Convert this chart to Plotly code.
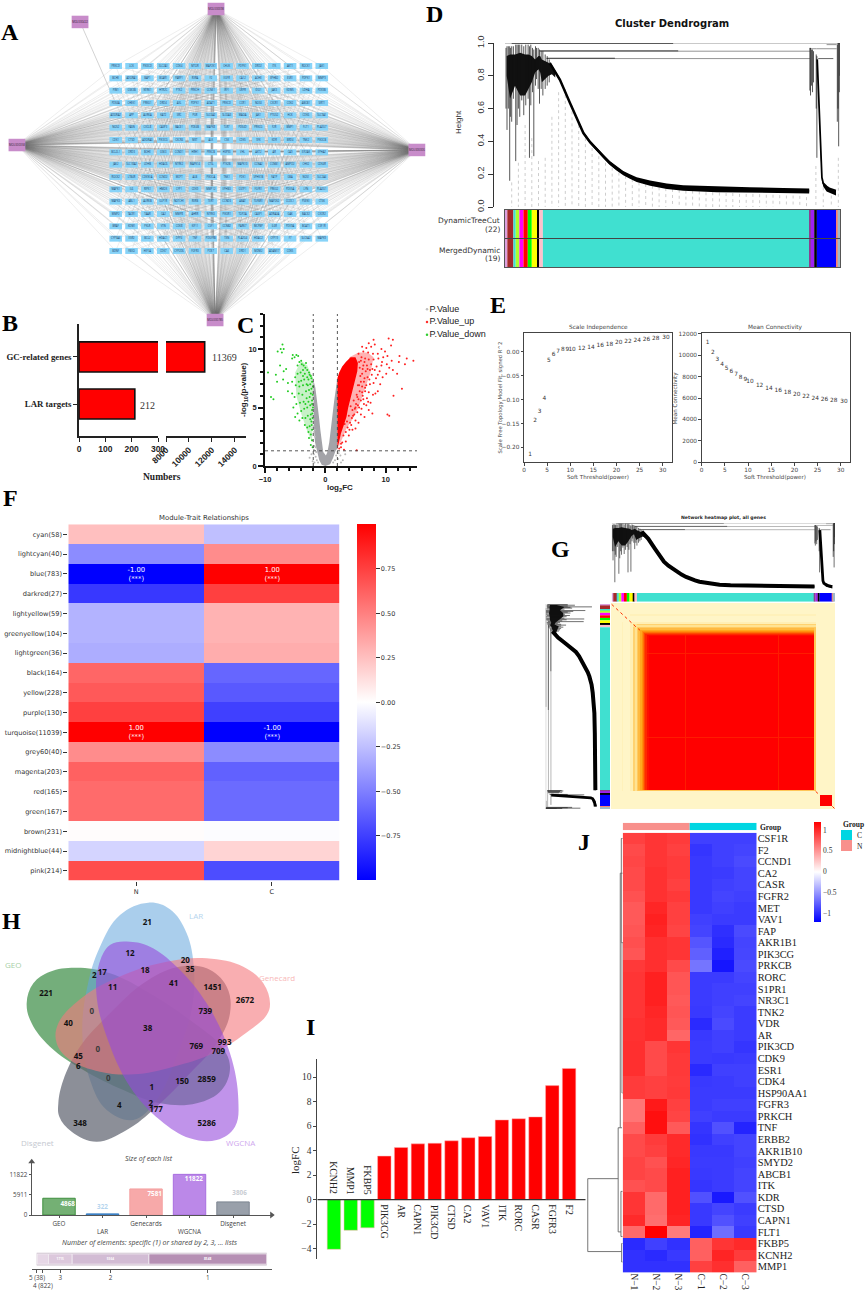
import plotly.graph_objects as go

W, H = 865, 1295
SERIF = "Liberation Serif"
SANS = "Liberation Sans"
DEJA = "DejaVu Sans"

# A: network
gene_rows = [
    ["PRKCD", "LCK", "PIK3CD", "SLC2A1", "CDK4", "MTOR", "MAP2K1", "CHUK", "PDPK1", "DRD2", "ITK", "AKT1", "ROCK1", "JAK1"],
    ["BCHE", "ADORA1", "BAP1", "BCAR1", "PARP1", "RXRA", "F2", "EGFR", "CA12", "ACHE", "EPHB2", "ESR1", "PDPK1", "MMP9"],
    ["PIM1", "GSK3B", "NTRK1", "HTR2C", "PTK2", "PRKCH", "CCNE1", "IRF1", "GRPR", "IDO1", "JAK3", "KDM5", "LDHA", "PDE3B"],
    ["PDE4A", "CHEK1", "PRKG1", "DRD4", "AXL", "PDPK1", "ADAT1", "PRKCD", "CCR1", "NOS3", "CXCR1", "CDK2", "ABCB1", "SIRT1"],
    ["ADORA2", "APP", "AURKA", "KAT2", "SRC", "PGR", "SLC6A2", "SLC6A3", "MAOA", "JAK1", "PTGS2", "HCK", "CDK6", "SLC9A1"],
    ["NOS2", "FASN", "CXCL8", "CASP3", "BACE1", "PDE4B", "MAPK8", "TLR7", "PDE4D", "PRKCG", "F2R", "BMP1", "FLT1", "PLA2G7"],
    ["CDK1", "CTSD", "ADORA3", "PIK3CG", "CXCR4", "MET", "ALK", "CSK", "CDK5", "SYK", "KDR", "BRD4", "TNK2", "PIK3CB"],
    ["BCL2L1", "DRD3", "BCHE", "GSK3", "CCND1", "HRH1", "PRKCB", "HSP90", "VHL", "AKT2", "AR", "CA9", "EIF2AK", "EPHA2"],
    ["JAK2", "SLC18A2", "LDHB", "HDAC6", "NTRK2", "MAPK14", "CTSL", "PTK2B", "MAPK10", "CCNA2", "CCNB1", "AMPD2", "CHK2", "CDK4R"],
    ["ROCK2", "LTB4R", "CDKN1A", "CCND2", "MCPT", "ALB", "PIK3CA", "TNK1", "PDK1", "SPHK1B", "FATP", "GBA", "NOS1", "SLC2A4"],
    ["MAPK1", "IL6", "RIPK1", "HMOX", "CFP1", "CDK9", "MMP12", "EPHB3", "GSTP1", "FGFR1", "PRKG2", "PDE5A", "LYN", "PLA2G1"],
    ["MAPK3", "ABL1", "AURKB", "GLP1R", "NOTCH1", "RXRB", "TERT", "CCND3", "ABAT", "TGFBR1", "MAP2K2", "CCDC1", "PSEN1", "CTSK"],
    ["MMP2", "TACR1", "TAAR", "CA2", "MMP8", "AHRR", "NTRK3", "PIK3R1", "TOP2A", "CASP1", "ADRA2A", "GAK", "BACE2", "CXCR2"],
    ["BRAF", "KDM1", "PKLR", "VTN", "CDK8", "KIF11", "CSF1", "CCNB2", "PARK7", "MCPBP", "IL6R", "PDE9A", "BCAT1", "CSF1R"],
    ["CYP3A4", "ESR2", "BCL2", "HDAC1", "DPP4", "TNF", "PDGFRB", "TXN", "PLA2G4", "HDAC2", "CYP19", "F7", "SLC5A2", "MAPK9"],
    ["BDNF", "FBXO", "HIF1A", "CDK7", "CYP2D6", "FGFR3", "PDE7", "CA4", "DRD1", "MDM2", "ADAM17", "CDK5"],
]
hub_names = ["MOL000422", "MOL000098", "MOL000358", "MOL000006", "MOL000785"]
hub_col = [-2.25, 6.33, -6.23, 19.0, 6.27]
hub_row = [-3.57, -4.62, 6.41, 6.81, 20.6]

# B: broken bars
target_names = ["LAR targets", "GC-related genes"]
target_counts = [212, 11369]

# C: volcano
volc_core_x = [-2, -2, -1.95, -1.9, -1.7, -1.35, -1, -0.6, 0, 0.8, 1.3, 1.7, 2, 2, 1.75, 1.45, 1.15, 0.9, 0.65, 0.35, 0.1, -0.35, -0.6, -0.8, -1.05, -1.3, -1.65]
volc_core_y = [7.4, 6, 4.5, 3.2, 2, 1.1, 0.5, 0.1, 0, 0.15, 0.7, 1.3, 1.5, 7.5, 6.7, 5.5, 4.2, 3, 2, 1.2, 0.9, 1.2, 2, 3, 4.2, 5.5, 6.7]
volc_red_x = [2, 2.3, 2.6, 3, 3.5, 3.8, 4.2, 4.6, 5, 5.3, 5.4, 5, 4.2, 3.4, 2.8, 2.3, 2]
volc_red_y = [1.4, 2.2, 2.8, 3.4, 4.2, 5, 5.8, 6.6, 7.4, 8.1, 8.8, 9.3, 9.3, 8.9, 8.5, 8, 7.5]
volc_haze_up_x = [2.2, 3.5, 4.5, 5.5, 6.5, 7.5, 8, 7, 5.5, 4]
volc_haze_up_y = [1.6, 3.2, 4, 5, 6.5, 8, 9.3, 9.7, 9.7, 9.3]
volc_haze_down_x = [-2, -3, -4, -5, -4.8, -4, -3, -2.2]
volc_haze_down_y = [7.5, 8.6, 9, 8, 6, 4.5, 3, 2]
up_points = [(2.3, 1.5), (2.6, 1.6), (3.1, 1.4), (5.2, 1.35), (2.8, 2.0), (3.0, 2.6), (3.4, 2.9), (3.7, 3.3), (3.2, 3.6), (4.1, 3.7),
             (4.4, 4.1), (3.9, 4.3), (4.8, 4.4), (5.0, 3.9), (4.5, 4.8), (5.3, 4.6), (4.2, 5.1), (5.6, 5.0), (6.0, 4.9), (5.1, 5.3),
             (4.7, 5.6), (6.4, 5.3), (5.5, 5.7), (6.9, 5.8), (7.5, 5.4), (7.9, 6.1), (8.3, 6.2), (6.2, 6.0), (5.2, 6.1), (5.7, 6.4),
             (6.6, 6.4), (7.2, 6.3), (8.7, 6.4), (9.1, 7.0), (8.0, 7.1), (7.4, 7.0), (6.8, 6.9), (6.1, 6.8), (5.4, 6.9), (5.9, 7.2),
             (6.5, 7.5), (7.0, 7.6), (7.7, 7.8), (8.4, 7.5), (9.5, 7.6), (10.1, 7.9), (9.0, 8.1), (8.2, 8.2), (7.4, 8.2), (6.7, 8.1),
             (6.1, 7.9), (5.7, 8.4), (6.3, 8.6), (6.9, 8.6), (7.6, 8.7), (8.5, 8.5), (9.3, 8.6), (10.2, 8.7), (10.6, 8.4), (11.2, 8.2),
             (11.0, 9.0), (12.2, 8.9), (13.2, 8.7), (13.5, 9.2), (14.6, 9.0), (12.3, 9.4), (10.3, 9.4), (9.6, 9.3), (8.8, 9.2), (8.0, 9.1),
             (7.2, 9.1), (6.6, 9.2), (6.0, 9.3), (5.5, 9.6), (6.3, 9.8), (7.1, 9.7), (7.9, 9.6), (8.7, 9.6), (9.3, 10.0), (8.2, 10.4),
             (7.6, 10.2), (6.8, 10.1), (6.1, 10.2), (8.0, 10.8), (7.2, 10.5), (10.5, 10.9), (11.2, 10.8), (10.9, 10.3), (9.9, 9.8), (11.3, 6.0),
             (12.7, 6.6), (11.9, 7.9), (10.3, 4.4), (10.6, 4.3), (7.2, 4.8), (7.8, 4.5), (6.5, 4.2), (5.9, 4.4), (5.5, 3.7), (5.0, 3.2),
             (4.5, 3.1), (3.9, 2.6), (3.4, 2.1), (2.6, 1.9), (5.9, 5.6), (6.3, 5.7), (5.4, 5.2), (4.9, 4.9), (4.6, 4.3), (4.3, 3.5),
             (6.8, 5.2), (7.1, 5.5), (5.6, 6.9), (5.8, 7.7), (6.4, 7.2), (7.3, 7.4), (6.2, 8.3), (5.6, 8.9), (5.9, 9.0), (6.5, 8.9),
             (7.0, 8.3), (7.8, 8.3), (8.7, 7.8), (9.4, 8.9), (6.1, 6.3), (6.6, 6.7), (5.3, 5.9), (5.0, 5.0), (3.6, 3.8), (4.0, 3.1)]
down_points = [(-7.1, 10.4), (-7.4, 10.0), (-7.9, 9.8), (-7.2, 9.7), (-6.9, 10.0), (-5.4, 9.5), (-5.1, 9.3), (-4.8, 9.5), (-4.5, 9.4), (-5.5, 9.2),
               (-4.3, 8.9), (-4.0, 9.0), (-3.9, 8.7), (-4.6, 8.6), (-3.6, 8.6), (-3.3, 8.4), (-3.7, 8.2), (-3.0, 8.2), (-2.7, 8.0), (-3.4, 7.9),
               (-4.1, 8.0), (-4.6, 7.9), (-5.0, 7.6), (-3.0, 7.6), (-2.4, 7.7), (-2.8, 7.4), (-3.5, 7.4), (-4.0, 7.3), (-2.2, 7.2), (-2.5, 7.0),
               (-3.1, 7.0), (-3.7, 6.9), (-4.3, 6.8), (-4.9, 6.9), (-5.5, 7.2), (-6.2, 7.1), (-7.0, 7.4), (-8.0, 7.2), (-8.2, 7.8), (-9.5, 8.0),
               (-6.5, 8.3), (-7.5, 8.6), (-6.9, 8.1), (-9.0, 5.9), (-8.6, 5.7), (-6.2, 6.4), (-5.5, 6.2), (-5.1, 5.9), (-4.4, 6.2), (-3.8, 6.1),
               (-3.2, 6.4), (-2.7, 6.5), (-2.3, 6.6), (-2.1, 6.1), (-2.6, 5.9), (-3.1, 5.8), (-3.6, 5.5), (-4.2, 5.4), (-4.8, 5.3), (-5.3, 5.0),
               (-2.2, 5.6), (-2.5, 5.2), (-3.0, 5.0), (-3.5, 4.9), (-4.0, 4.7), (-4.6, 4.5), (-5.0, 4.2), (-2.2, 4.8), (-2.4, 4.4), (-2.9, 4.3),
               (-3.3, 4.1), (-3.8, 4.1), (-4.3, 3.9), (-2.3, 3.8), (-2.6, 3.4), (-3.0, 3.3), (-2.2, 3.1), (-3.4, 3.5), (-2.4, 2.7), (-2.7, 2.4),
               (-2.2, 2.2), (-2.4, 1.8), (-2.1, 1.6), (-2.2, 5.3), (-2.1, 4.1), (-2.05, 6.8), (-2.05, 5.0), (-2.3, 7.5), (-2.6, 7.8), (-3.2, 8.8),
               (-2.9, 6.9), (-2.4, 6.2), (-2.8, 5.5), (-3.3, 5.3), (-2.15, 4.5), (-2.5, 4.0), (-2.25, 3.5), (-2.8, 2.9), (-3.7, 7.7), (-4.4, 7.2)]
other_points = [(-1.9, 1.4), (-1.8, 1.7), (-1.7, 2.5), (-1.6, 1.6), (-1.5, 1.2), (-1.85, 2.9), (-1.95, 3.4), (-1.75, 3.1), (-1.9, 1.0), (-1.6, 0.8),
                (-1.4, 0.5), (-2.3, 1.0), (-2.6, 0.7), (-2.1, 0.4), (-1.8, 0.3), (-1.2, 0.3), (2.2, 1.1), (2.5, 0.9), (2.9, 0.5), (2.6, 0.3),
                (2.1, 0.6), (1.8, 0.9), (1.6, 0.5), (1.3, 0.3), (-1.95, 4.0), (-1.98, 5.2), (-1.97, 6.1), (3.3, 1.0)]
legend_names = ["P.Value", "P.Value_up", "P.Value_down"]
legend_colors = ["#c0c0c0", "#ff3030", "#30cc30"]

# D / G: dendrogram, x is gene order in percent of the width, h is height
dend_curve_x = [13.4, 16.4, 19.4, 21.4, 23.4, 25.4, 27.4, 29.4, 31.3, 33.3, 35.3, 37.3, 39.3, 43.3, 48.3, 53.2, 63.2, 73.1, 83.1, 90.8]
dend_curve_hi = [0.885, 0.785, 0.643, 0.553, 0.46, 0.405, 0.36, 0.318, 0.28, 0.249, 0.22, 0.199, 0.181, 0.162, 0.143, 0.133, 0.125, 0.12, 0.116, 0.113]
dend_curve_lo = [0.87, 0.767, 0.625, 0.535, 0.442, 0.385, 0.34, 0.296, 0.256, 0.222, 0.194, 0.172, 0.153, 0.13, 0.109, 0.099, 0.09, 0.087, 0.085, 0.083]
dend_side_x = [93.2, 93.6, 94.0, 94.3, 94.6, 95, 96, 97, 98, 98.8, 98.8, 98, 97, 96, 95, 94.6, 94.3, 94.0, 93.6, 93.2]
dend_side_h = [0.9, 0.7, 0.45, 0.3, 0.18, 0.145, 0.125, 0.112, 0.105, 0.1, 0.07, 0.078, 0.085, 0.095, 0.125, 0.16, 0.28, 0.43, 0.68, 0.9]
dend_dense_x = [0.5, 1.5, 3, 4.5, 6, 7, 8, 9, 10, 10.5, 11, 12, 13, 14, 15]
dend_dense_hi = [0.92, 0.93, 0.93, 0.94, 0.93, 0.93, 0.92, 0.9, 0.92, 0.92, 0.9, 0.89, 0.88, 0.86, 0.83]
dend_dense_lo = [0.8, 0.66, 0.74, 0.68, 0.68, 0.72, 0.76, 0.82, 0.84, 0.82, 0.76, 0.78, 0.8, 0.81, 0.79]
spike_x = [0.3, 0.6, 1.0, 1.4, 1.6, 2.0, 2.5, 3.2, 3.6, 4.0, 4.4, 5.0, 5.6, 6.2, 6.9, 7.3, 7.7, 8.2, 8.6, 9.1, 9.4, 9.9, 10.3, 10.8, 11.3, 12.0, 12.6, 13.2,
           91.0, 91.2, 91.5, 91.8, 92.1, 92.9, 93.1, 99.2, 99.4, 99.6, 99.8, 100]
spike_hi = [0.97, 0.98, 0.98, 0.98, 0.97, 0.98, 0.98, 0.99, 0.99, 0.99, 0.99, 0.99, 0.98, 0.99, 0.99, 0.98, 0.99, 0.97, 0.96, 0.98, 0.97, 0.97, 0.96, 0.95, 0.95, 0.93, 0.92, 0.9,
            0.97, 0.97, 0.96, 0.96, 0.95, 0.93, 0.92, 0.99, 1.0, 1.0, 1.0, 1.0]
spike_lo = [0.6, 0.47, 0.6, 0.16, 0.55, 0.52, 0.66, 0.28, 0.5, 0.6, 0.55, 0.65, 0.56, 0.62, 0.66, 0.3, 0.62, 0.7, 0.31, 0.74, 0.78, 0.72, 0.63, 0.72, 0.68, 0.72, 0.74, 0.76,
            0.71, 0.68, 0.74, 0.7, 0.76, 0.6, 0.3, 0.52, 0.6, 0.37, 0.7, 0.8]
hline_x0 = [0, 2, 10.4, 10.4, 12.4, 12.4, 93, 96, 93.5, 91, 96]
hline_x1 = [100, 50.2, 91, 51.7, 91, 32.8, 99, 99, 98, 93, 96]
hline_h = [1.0, 0.998, 0.95, 0.952, 0.905, 0.907, 0.965, 0.99, 0.905, 0.965, 0.99]
hline_color = ["#888888", "#333333", "#888888", "#333333", "#888888", "#333333", "#888888", "#888888", "#555555", "#888888", "#888888"]
guide_x = [2, 4, 6, 8, 10, 12, 14, 16, 18, 20, 22, 24, 26, 28, 30, 32, 34, 36, 38, 40, 42, 44, 46, 48, 50, 52, 54, 56, 58, 60, 62, 64, 66, 68, 70, 72, 74, 76, 78, 80, 82, 84, 86, 88, 90, 92.8, 95, 97.4, 99.5]
guide_h = [0.15, 0.27, 0.5, 0.42, 0.28, 0.3, 0.55, 0.7, 0.72, 0.62, 0.5, 0.42, 0.36, 0.31, 0.27, 0.24, 0.21, 0.19, 0.17, 0.15, 0.14, 0.13, 0.12, 0.115, 0.11, 0.105, 0.1, 0.1, 0.095, 0.09, 0.09, 0.088, 0.085, 0.085, 0.08, 0.08, 0.08, 0.078, 0.075, 0.075, 0.072, 0.07, 0.07, 0.068, 0.06, 0.25, 0.12, 0.07, 0.3]
module_widths = [0.7, 1.8, 0.7, 1.1, 1.2, 1.3, 1.2, 1.7, 0.5, 1.1, 79.6, 0.4, 1.0, 0.8, 5.8, 0.4, 0.8]
module_colors = ["#dda0dd", "#a52a2a", "#40e0d0", "#adff2f", "#ff00ff", "#ff0000", "#00ff00", "#ffff00", "#000000", "#ffc0cb", "#40e0d0", "#8b4090", "#a020f0", "#000000", "#0000ff", "#fa8072", "#9fb8c8"]

# E: soft threshold
power_labels = ["1", "2", "3", "4", "5", "6", "7", "8", "9", "10", "12", "14", "16", "18", "20", "22", "24", "26", "28", "30"]
power_x = [1.3, 2.4, 3.4, 4.4, 5.4, 6.4, 7.4, 8.4, 9.4, 10.4, 12.5, 14.5, 16.5, 18.5, 20.5, 22.5, 24.5, 26.5, 28.5, 30.7]
scale_fit = [-0.2145, -0.1446, -0.1246, -0.097, -0.0187, -0.0055, 0.0, 0.0035, 0.004, 0.004, 0.0055, 0.0083, 0.0125, 0.0145, 0.018, 0.02, 0.022, 0.025, 0.0277, 0.03]
mean_conn = [11160, 10228, 9575, 9109, 8736, 8456, 8176, 7927, 7741, 7523, 7181, 6901, 6684, 6497, 6311, 6124, 5969, 5876, 5751, 5627]

# F: module-trait heatmap
module_names = ["cyan(58)", "lightcyan(40)", "blue(783)", "darkred(27)", "lightyellow(59)", "greenyellow(104)", "lightgreen(36)", "black(164)", "yellow(228)",
                "purple(130)", "turquoise(11039)", "grey60(40)", "magenta(203)", "red(165)", "green(167)", "brown(231)", "midnightblue(44)", "pink(214)"]
trait_n = [0.25, -0.45, -1.0, -0.78, -0.3, -0.3, -0.32, 0.6, 0.65, 0.75, 1.0, 0.45, 0.62, 0.58, 0.58, 0.01, -0.17, 0.7]
trait_c = [-0.25, 0.45, 1.0, 0.75, 0.3, 0.3, 0.32, -0.6, -0.65, -0.75, -1.0, -0.45, -0.62, -0.58, -0.58, -0.01, 0.17, -0.7]
trait_text_n = ["", "", "-1.00<br>(***)", "", "", "", "", "", "", "", "1.00<br>(***)", "", "", "", "", "", "", ""]
trait_text_c = ["", "", "1.00<br>(***)", "", "", "", "", "", "", "", "-1.00<br>(***)", "", "", "", "", "", "", ""]

# G: TOM heat map, bands
tom_x_edges = [243, 275, 280, 300, 310, 314, 320, 325, 330, 335, 340, 343, 346, 350, 356, 465, 468, 743, 746, 853, 857, 870, 907, 915]
tom_y_edges = [338, 370, 378, 395, 400, 405, 410, 414, 418, 421, 424, 427, 430, 433, 438, 487, 490, 742, 745, 900, 905, 917, 950, 958]
tom_band = [0.02, 0.08, 0.02, 0.1, 0.35, 0.25, 0.38, 0.45, 0.52, 0.6, 0.7, 0.82, 0.9, 0.97, 1.0, 0.93, 1.0, 0.93, 1.0, 0.4, 0.02, 0.02, 0.02]
tom_diag_x = [245, 262, 280, 296, 305, 318, 330, None, 857, 870, None, 907, 915]
tom_diag_y = [342, 358, 375, 392, 398, 410, 420, None, 905, 917, None, 950, 958]

# H: venn
petal_geo = [(80, 340), (100, 280), (150, 245), (230, 233), (330, 250), (450, 310), (570, 390), (665, 470), (690, 530), (665, 600), (590, 640), (480, 640), (370, 600), (250, 540), (150, 470), (95, 400)]
petal_lar = [(445, 38), (510, 58), (560, 130), (582, 240), (575, 360), (530, 500), (470, 630), (400, 690), (320, 660), (270, 570), (247, 430), (262, 290), (300, 170), (360, 75)]
petal_gene = [(810, 340), (790, 280), (730, 230), (620, 205), (500, 215), (370, 255), (250, 320), (175, 400), (170, 460), (210, 510), (300, 545), (400, 553), (520, 530), (640, 490), (750, 420), (800, 375)]
petal_wgcna = [(390, 155), (330, 165), (295, 230), (290, 320), (320, 440), (390, 590), (480, 690), (570, 745), (650, 750), (705, 710), (715, 630), (690, 490), (620, 340), (530, 230), (450, 170)]
petal_dis = [(175, 640), (190, 570), (240, 470), (330, 370), (430, 280), (530, 232), (620, 235), (680, 290), (690, 370), (650, 460), (570, 550), (470, 650), (380, 720), (290, 755), (215, 725), (178, 680)]
venn_counts = [("21", 442, 100), ("12", 390, 193), ("20", 556, 213), ("35", 570, 239), ("2", 283, 257), ("17", 307, 248), ("18", 435, 242), ("11", 338, 295), ("41", 521, 283),
               ("1451", 638, 295), ("2672", 735, 334), ("221", 138, 313), ("0", 275, 366), ("739", 616, 365), ("40", 205, 401), ("38", 443, 418), ("993", 674, 458), ("769", 589, 472),
               ("709", 655, 486), ("0", 293, 481), ("45", 235, 500), ("6", 235, 530), ("0", 325, 568), ("150", 546, 577), ("2859", 620, 569), ("1", 455, 595), ("4", 358, 648),
               ("2", 452, 642), ("177", 468, 660), ("348", 240, 701), ("5286", 620, 701)]
list_names = ["GEO", "<br>LAR", "Genecards", "<br>WGCNA", "Disgenet"]
list_sizes = [4868, 322, 7581, 11822, 3806]
list_fill = ["#74b074", "#5b9bd5", "#f7a9a9", "#bb88e8", "#99a0aa"]
list_edge = ["#3f8f3f", "#2f78c0", "#f4a0a0", "#a86fe0", "#7c8490"]
shared_counts = [38, 822, 1715, 5564, 8548]
shared_names = ["5 (38)", "<br>4 (822)", "3", "2", "1"]
shared_fill = ["#d9c8d9", "#e6d7e6", "#dcc8dc", "#d2bcd4", "#b690b4"]
shared_text = [" ", " ", "1715", "5564", "8548"]

# I: logFC bars
fc_genes = ["KCNH2", "MMP1", "FKBP5", "PIK3CG", "AR", "CAPN1", "PIK3CD", "CTSD", "CA2", "VAV1", "ITK", "RORC", "CASR", "FGFR3", "F2"]
fc_values = [-4.05, -2.5, -2.3, 3.55, 4.25, 4.55, 4.6, 4.8, 5.05, 5.15, 6.5, 6.6, 6.75, 9.3, 10.7]

# J: expression heatmap
expr_genes = ["CSF1R", "F2", "CCND1", "CA2", "CASR", "FGFR2", "MET", "VAV1", "FAP", "AKR1B1", "PIK3CG", "PRKCB", "RORC", "S1PR1", "NR3C1", "TNK2", "VDR", "AR", "PIK3CD",
              "CDK9", "ESR1", "CDK4", "HSP90AA1", "FGFR3", "PRKCH", "TNF", "ERBB2", "AKR1B10", "SMYD2", "ABCB1", "ITK", "KDR", "CTSD", "CAPN1", "FLT1", "FKBP5", "KCNH2", "MMP1"]
expr_samples = ["N\u22121", "N\u22122", "N\u22123", "C\u22121", "C\u22122", "C\u22123"]
expr_values = [
    [0.9, 0.95, 0.92, -0.9, -0.9, -0.9], [0.85, 0.95, 0.9, -0.95, -0.9, -0.88], [0.87, 0.95, 0.92, -0.93, -0.9, -0.85],
    [0.85, 0.97, 0.92, -0.93, -0.92, -0.88], [0.85, 0.97, 0.9, -0.93, -0.9, -0.88], [0.82, 0.97, 0.93, -0.93, -0.88, -0.9],
    [0.78, 1.02, 0.9, -0.93, -0.9, -0.92], [0.78, 1.05, 0.9, -0.9, -0.92, -0.92], [0.8, 1.03, 0.88, -0.88, -0.98, -0.85],
    [0.83, 0.98, 0.95, -0.8, -1.0, -0.88], [0.8, 0.98, 0.95, -0.75, -1.05, -0.87], [0.93, 0.98, 0.85, -0.65, -1.1, -0.85],
    [0.95, 1.05, 0.8, -0.92, -0.92, -0.88], [0.95, 1.05, 0.8, -0.92, -0.9, -0.9], [0.95, 1.05, 0.78, -0.92, -0.9, -0.88],
    [0.95, 1.02, 0.8, -0.93, -0.88, -0.92], [0.97, 1.0, 0.78, -1.0, -0.85, -0.92], [0.97, 1.0, 0.72, -0.93, -0.9, -0.92],
    [0.98, 0.85, 0.95, -0.92, -0.9, -0.95], [0.98, 0.85, 0.93, -0.92, -0.93, -0.92], [0.98, 0.85, 0.93, -1.0, -0.9, -0.9],
    [0.92, 0.9, 0.92, -0.93, -0.92, -0.9], [0.92, 0.9, 0.93, -0.92, -0.92, -0.92], [0.65, 1.08, 0.9, -0.92, -0.9, -0.9],
    [0.65, 1.13, 0.88, -0.9, -0.92, -0.92], [0.75, 1.13, 0.78, -0.95, -0.82, -1.03], [0.85, 0.92, 1.0, -0.97, -0.9, -0.88],
    [0.85, 0.9, 1.0, -0.93, -0.93, -0.88], [0.88, 0.82, 1.02, -0.92, -0.92, -0.9], [0.88, 0.85, 1.05, -0.93, -0.92, -0.88],
    [0.82, 0.85, 1.05, -0.95, -0.92, -0.88], [0.95, 0.7, 1.05, -0.82, -1.08, -0.82], [0.95, 0.7, 1.05, -0.93, -0.88, -0.92],
    [1.0, 0.68, 1.03, -0.93, -0.82, -0.9], [0.7, 1.2, 0.62, -1.03, -0.68, -0.93], [-1.0, -0.9, -0.97, 0.75, 0.95, 1.0],
    [-0.97, -1.0, -0.93, 0.75, 1.03, 0.92], [-0.97, -0.97, -0.97, 0.9, 0.98, 0.75],
]
group_widths = [3, 3]
group_colors = ["#f8908c", "#00d6e2"]
tree_x = [1.0, 1.0, None, 1.0, 0.13, None, 1.0, 0.03, None, 0.13, 0.13, None, 0.13, 0.07, None, 0.13, 0.05, None, 0.03, 0.03, None, 0.03, 0, None, 0.03, 0, None,
          0.07, 0.07, None, 0.07, 0, None, 0.07, 0.02, None, 0.05, 0.05, None, 0.05, 0, None, 0.05, 0, None, 0.02, 0.02, None, 0.02, 0, None, 0.02, 0, None, 0.04, 0.04, None, 0.04, 0, None, 0.04, 0]
tree_y = [29.4, 35.7, None, 29.4, 29.4, None, 35.7, 35.7, None, 25, 34, None, 25, 25, None, 34, 34, None, 35, 36.6, None, 35, 35, None, 36.6, 36.6,
          None, 3, 25, None, 3, 3, None, 25, 25, None, 30.5, 34.4, None, 30.5, 30.5, None, 34.4, 34.4, None, 9, 22, None, 9, 9, None, 22, 22, None, 0, 9, None, 0, 0, None, 9, 9]

fig = go.Figure()
notes = []
axes = {}
n_axes = 1


def new_axes(left, top, right, bottom, x=None, y=None):
    # one panel, box given in page pixels
    global n_axes
    n_axes += 1
    base = dict(showgrid=False, zeroline=False, showticklabels=False, ticks="", showline=False)
    axes[f"xaxis{n_axes}"] = {**base, "domain": [left / W, right / W], "anchor": f"y{n_axes}", **(x or {})}
    axes[f"yaxis{n_axes}"] = {**base, "domain": [1 - bottom / H, 1 - top / H], "anchor": f"x{n_axes}", **(y or {})}
    return dict(xaxis=f"x{n_axes}", yaxis=f"y{n_axes}")


def note(x, y, text, size=8, color="#222222", family=SANS, weight=400, angle=0, xanchor="center"):
    notes.append(dict(x=x / W, y=1 - y / H, xref="paper", yref="paper", text=text, showarrow=False, textangle=angle,
                      xanchor=xanchor, yanchor="middle", font=dict(size=size, color=color, family=family, weight=weight)))


def line_trace(ax, xs, ys, color, width, dash="solid"):
    fig.add_trace(go.Scatter(x=xs, y=ys, mode="lines", line=dict(color=color, width=width, dash=dash), hoverinfo="skip", **ax))


def fill_trace(ax, xs, ys, color):
    fig.add_trace(go.Scatter(x=xs, y=ys, mode="lines", fill="toself", fillcolor=color, line=dict(width=0), hoverinfo="skip", **ax))


def add_dendro(ax, swap=False, width=0.7, guides=False, stroke=0):
    def put_line(xs, ys, color, w, dash="solid"):
        line_trace(ax, ys if swap else xs, xs if swap else ys, color, w, dash)

    def put_fill(xs, ys, color):
        fill_trace(ax, ys if swap else xs, xs if swap else ys, color)

    if guides:
        xs, ys = [], []
        for gx, gh in zip(guide_x, guide_h):
            xs += [gx, gx, None]
            ys += [gh, 0.0, None]
        put_line(xs, ys, "#b8b8b8", 0.7, "dot")
    for x0, x1, h, c in zip(hline_x0, hline_x1, hline_h, hline_color):
        put_line([x0, x1], [h, h], c, 0.9 if guides else 0.6)
    put_fill(dend_dense_x + dend_dense_x[::-1], dend_dense_hi + dend_dense_lo[::-1], "#111111")
    xs, ys = [], []
    for sx, hi, lo in zip(spike_x, spike_hi, spike_lo):
        xs += [sx, sx, None]
        ys += [hi, lo, None]
    put_line(xs, ys, "#111111", width)
    put_fill(dend_curve_x + dend_curve_x[::-1], dend_curve_hi + dend_curve_lo[::-1], "#000000")
    put_fill(dend_side_x, dend_side_h, "#000000")
    # the fill alone comes out too thin, the small copies most of all
    put_line(dend_curve_x, [(a + b) / 2 for a, b in zip(dend_curve_hi, dend_curve_lo)], "#000000", stroke)
    put_line(dend_side_x[:10], dend_side_h[:10], "#000000", stroke * 0.7)


def module_bar(ax, row=0, vertical=False):
    left = [sum(module_widths[:i]) for i in range(len(module_widths))]
    if vertical:
        fig.add_trace(go.Bar(y=module_widths, base=left, x=[row] * len(left), width=1, marker=dict(color=module_colors, line_width=0), hoverinfo="skip", **ax))
    else:
        fig.add_trace(go.Bar(x=module_widths, base=left, y=[row] * len(left), width=1, orientation="h", marker=dict(color=module_colors, line_width=0), hoverinfo="skip", **ax))


# ---- A ----
ax = new_axes(0, 0, 450, 330, x=dict(range=[-7.3, 21.09]), y=dict(range=[21.41, -5.35]))
ex, ey = [], []
for hx, hy in zip(hub_col[1:], hub_row[1:]):
    for r, names in enumerate(gene_rows):
        for c in range(len(names)):
            ex += [hx, c, None]
            ey += [hy, r, None]
line_trace(ax, ex, ey, "rgba(110,110,110,0.2)", 0.6)
line_trace(ax, [hub_col[0], 0], [hub_row[0], 3], "rgba(150,150,150,0.7)", 0.6)
node_x = [c for names in gene_rows for c in range(len(names))]
node_y = [r for r, names in enumerate(gene_rows) for c in names]
node_text = [g for names in gene_rows for g in names]
fig.add_trace(go.Scatter(x=node_x, y=node_y, mode="markers+text", text=node_text, textposition="middle center", textfont=dict(size=2.6, color="#1a3a66"),
                         marker=dict(symbol="line-ew", size=9, line=dict(width=6, color="#87d3f8")), hoverinfo="skip", **ax))
fig.add_trace(go.Scatter(x=hub_col, y=hub_row, mode="markers+text", text=hub_names, textposition="middle center", textfont=dict(size=2.8, color="#332233"),
                         marker=dict(symbol="line-ew", size=12, line=dict(width=12.5, color="#c88cca")), hoverinfo="skip", **ax))

# ---- B ----
b_y = dict(range=[-0.68, 1.70], type="category", categoryorder="array", categoryarray=target_names)
axis_b = dict(showline=True, linecolor="#222222", linewidth=1.5, ticks="outside", ticklen=4, tickcolor="#222222", showticklabels=True, tickformat="d",
              tickfont=dict(family=SANS, size=8.5, color="#222222", weight="bold"))
ax = new_axes(79, 324, 158, 436, x=dict(range=[0, 300], tickvals=[0, 100, 200, 300], **axis_b),
              y=dict(**b_y, showline=True, linecolor="#222222", linewidth=1.5, ticks="outside", ticklen=4, tickcolor="#222222", showticklabels=True,
                     tickfont=dict(family=SERIF, size=8.8, color="#222222", weight="bold")))
fig.add_trace(go.Bar(x=target_counts, y=target_names, orientation="h", width=0.64, marker=dict(color="#ff0000", line=dict(color="#111111", width=1.6)), hoverinfo="skip", **ax))
ax = new_axes(166, 324, 245.6, 436, x=dict(range=[8000, 14930], tickvals=[8000, 10000, 12000, 14000], tickangle=-45, **axis_b), y=b_y)
fig.add_trace(go.Bar(x=target_counts, y=target_names, orientation="h", width=0.64, marker=dict(color="#ff0000", line=dict(color="#111111", width=1.6)), hoverinfo="skip", **ax))
note(225, 357, str(target_counts[1]), 10, "#333333", SERIF)
note(147, 405, str(target_counts[0]), 10, "#333333", SERIF)
note(162, 477, "Numbers", 9.5, "#222222", SERIF, 700)

# ---- C ----
axis_c = dict(showline=True, linecolor="#111111", linewidth=1.5, ticks="outside", ticklen=5, tickcolor="#111111", tickwidth=1.5, showticklabels=True,
              tickfont=dict(family=SANS, size=7.5, color="#222222", weight="bold"))
ax = new_axes(265, 314, 417, 466, x=dict(range=[-10, 15.2], tickvals=[-10, 0, 10], minor=dict(dtick=2, ticks="outside", ticklen=3, tickcolor="#111111"), **axis_c),
              y=dict(range=[0, 13], tickvals=[0, 5, 10], minor=dict(dtick=1, ticks="outside", ticklen=3, tickcolor="#111111"), **axis_c))
fill_trace(ax, volc_haze_up_x, volc_haze_up_y, "rgba(255,0,0,0.3)")
fill_trace(ax, volc_haze_down_x, volc_haze_down_y, "rgba(30,200,30,0.25)")
fill_trace(ax, volc_core_x, volc_core_y, "#a3a3a8")
fill_trace(ax, volc_red_x, volc_red_y, "#ff0000")
fig.add_trace(go.Scatter(x=[p[0] for p in other_points], y=[p[1] for p in other_points], mode="markers", marker=dict(size=2, color="#b9b9b9"), hoverinfo="skip", **ax))
fig.add_trace(go.Scatter(x=[p[0] for p in up_points], y=[p[1] for p in up_points], mode="markers", marker=dict(size=2, color="#ff2020"), hoverinfo="skip", **ax))
fig.add_trace(go.Scatter(x=[p[0] for p in down_points], y=[p[1] for p in down_points], mode="markers", marker=dict(size=2, color="#22cc22"), hoverinfo="skip", **ax))
line_trace(ax, [-2, -2, None, 2, 2, None, -10, 15.2], [0, 13, None, 0, 13, None, 1.3, 1.3], "#444444", 0.9, "dot")
note(340, 488, "log<sub>2</sub>FC", 8, "#222222", SANS, 700)
note(244, 390, "-log<sub>10</sub>(p-value)", 8, "#222222", SANS, 700, -90)
ax = new_axes(424, 303, 500, 341, x=dict(range=[0, 76]), y=dict(range=[2.5, -0.5]))
fig.add_trace(go.Scatter(x=[3, 3, 3], y=[0, 1, 2], mode="markers+text", text=legend_names, textposition="middle right", cliponaxis=False,
                         marker=dict(size=2.5, color=legend_colors), textfont=dict(family=SANS, size=9, color="#222222"), hoverinfo="skip", **ax))

# ---- D ----
ax = new_axes(505, 43, 840, 207, x=dict(range=[0, 100]),
              y=dict(range=[0, 1], anchor="free", position=493 / W, showline=True, linecolor="#333333", linewidth=1, ticks="outside", ticklen=5, tickcolor="#333333",
                     showticklabels=True, tickvals=[0, 0.2, 0.4, 0.6, 0.8, 1.0], ticktext=["0.0", "0.2", "0.4", "0.6", "0.8", "1.0"], tickangle=-90,
                     tickfont=dict(family=SANS, size=9, color="#333333")))
add_dendro(ax, guides=True, stroke=2.5)
box = dict(showline=True, mirror=True, linecolor="#555555", linewidth=1)
ax = new_axes(505, 210, 840, 267, x=dict(range=[0, 100], **box), y=dict(range=[-0.5, 1.5], **box))
module_bar(ax, 0)
module_bar(ax, 1)
line_trace(ax, [0, 100], [0.5, 0.5], "#444444", 1)
note(672, 24, "Cluster Dendrogram", 10, "#111111", DEJA, 700)
note(459, 122, "Height", 8, "#333333", SANS, angle=-90)
note(502, 221, "DynamicTreeCut", 7.5, "#333333", DEJA, xanchor="right")
note(502, 229, "(22)", 7.5, "#333333", DEJA, xanchor="right")
note(502, 250, "MergedDynamic", 7.5, "#333333", DEJA, xanchor="right")
note(502, 258, "(19)", 7.5, "#333333", DEJA, xanchor="right")

# ---- E ----
axis_e = dict(showline=True, mirror=True, linecolor="#444444", linewidth=1, ticks="outside", ticklen=2.5, tickcolor="#444444", showticklabels=True,
              tickfont=dict(family=DEJA, size=5.8, color="#444444"))
ax = new_axes(524, 333, 672, 462, x=dict(range=[0, 32], tickvals=[0, 5, 10, 15, 20, 25, 30], **axis_e),
              y=dict(range=[-0.2304, 0.0388], tickvals=[-0.2, -0.15, -0.1, -0.05, 0], tickformat=".2f", **axis_e))
fig.add_trace(go.Scatter(x=power_x, y=scale_fit, mode="text", text=power_labels, textfont=dict(family=DEJA, size=5.8, color="#333333"), hoverinfo="skip", **ax))
ax = new_axes(701.7, 333, 850, 462, x=dict(range=[0, 32], tickvals=[0, 5, 10, 15, 20, 25, 30], **axis_e),
              y=dict(range=[0, 12093], tickvals=[0, 2000, 4000, 6000, 8000, 10000, 12000], tickformat="d", **axis_e))
fig.add_trace(go.Scatter(x=power_x, y=mean_conn, mode="text", text=power_labels, textfont=dict(family=DEJA, size=5.8, color="#333333"), hoverinfo="skip", **ax))
note(598, 327.5, "Scale Independence", 5.8, "#444444", DEJA)
note(775, 327.5, "Mean Connectivity", 5.8, "#444444", DEJA)
note(598, 478, "Soft Threshold(power)", 5.6, "#444444", DEJA)
note(775, 478, "Soft Threshold(power)", 5.6, "#444444", DEJA)
note(499.5, 398, "Scale Free Topology Model Fit, signed R^2", 5.3, "#444444", DEJA, angle=-90)
note(674.5, 398, "Mean Connectivity", 5.6, "#444444", DEJA, angle=-90)

# ---- F ----
bwr = [[0, "#0000ff"], [0.5, "#ffffff"], [1, "#ff0000"]]
ax = new_axes(68.3, 524.3, 339.7, 880.7,
              x=dict(range=[-0.5, 1.5], type="category", ticks="outside", ticklen=4, tickcolor="#333333", showticklabels=True, tickfont=dict(family=DEJA, size=6.5, color="#333333")),
              y=dict(range=[17.5, -0.5], type="category", ticks="outside", ticklen=4, tickcolor="#333333", showticklabels=True, tickfont=dict(family=DEJA, size=6.6, color="#333333")))
fig.add_trace(go.Heatmap(z=[[a, b] for a, b in zip(trait_n, trait_c)], x=["N", "C"], y=module_names, colorscale=bwr, zmin=-1, zmax=1,
                         text=[[a, b] for a, b in zip(trait_text_n, trait_text_c)], texttemplate="%{text}", textfont=dict(family=DEJA, size=6.8, color="#ffffff"), hoverinfo="skip",
                         colorbar=dict(x=356.7 / W, xanchor="left", xpad=0, thickness=19, y=1 - 524.3 / H, yanchor="top", ypad=0, lenmode="fraction", len=356.4 / H, outlinewidth=0,
                                       tickvals=[-0.75, -0.5, -0.25, 0, 0.25, 0.5, 0.75], tickformat=".2f", ticks="outside", ticklen=4, tickcolor="#333333",
                                       tickfont=dict(family=DEJA, size=6.5, color="#333333")), **ax))
note(204, 518, "Module-Trait Relationships", 6.9, "#333333", DEJA)

# ---- G ----
ax = new_axes(611.7, 523, 835, 590, x=dict(range=[0, 100]), y=dict(range=[0.05, 1.0]))
add_dendro(ax, width=0.6, stroke=4)
ax = new_axes(611.7, 593, 835, 601.7, x=dict(range=[0, 100]), y=dict(range=[-0.5, 0.5]))
module_bar(ax)
ax = new_axes(545.7, 604, 598, 809, x=dict(range=[1.0, 0.05]), y=dict(range=[100, 0]))
add_dendro(ax, swap=True, width=0.6, stroke=4)
ax = new_axes(600, 604, 610, 809, x=dict(range=[-0.5, 0.5]), y=dict(range=[100, 0]))
module_bar(ax, vertical=True)
ax = new_axes(611, 603, 835, 809, x=dict(range=[243, 915]), y=dict(range=[958, 338]))
tom_z = [[min(a, b) for a in tom_band] for b in tom_band]
tom_z[21][21] = 1.0
fig.add_trace(go.Heatmap(z=tom_z, x=tom_x_edges, y=tom_y_edges, showscale=False, zmin=0, zmax=1, hoverinfo="skip",
                         colorscale=[[0, "#fff7cc"], [0.3, "#ffdf88"], [0.55, "#ffa010"], [0.8, "#ff5000"], [1, "#ff0000"]], **ax))
line_trace(ax, tom_diag_x, tom_diag_y, "#ff3000", 1, "dot")
note(723, 517.7, "Network heatmap plot, all genes", 4.6, "#222222", DEJA, 700)

# ---- H ----
ax = new_axes(0, 890, 300, 1295, x=dict(range=[0, 900]), y=dict(range=[1215, 0]))
for petal, color in [(petal_geo, "rgba(50,135,60,0.68)"), (petal_lar, "rgba(100,165,220,0.55)"), (petal_dis, "rgba(95,100,112,0.72)"),
                     (petal_gene, "rgba(245,120,125,0.6)"), (petal_wgcna, "rgba(150,75,220,0.6)")]:
    xs = [p[0] for p in petal] + [petal[0][0]]
    ys = [p[1] for p in petal] + [petal[0][1]]
    fig.add_trace(go.Scatter(x=xs, y=ys, mode="lines", fill="toself", fillcolor=color, line=dict(width=0, shape="spline", smoothing=1.1), hoverinfo="skip", **ax))
fig.add_trace(go.Scatter(x=[v[1] for v in venn_counts], y=[v[2] for v in venn_counts], mode="text", text=[v[0] for v in venn_counts],
                         textfont=dict(family="Open Sans", size=8, weight=700, color=["#3a3a3a" if v[0] == "0" else "#111111" for v in venn_counts]), hoverinfo="skip", **ax))
note(13, 965, "GEO", 8, "#a8cfa8", "Open Sans")
note(196, 915, "LAR", 8, "#b5d5ee", "Open Sans")
note(277, 977, "Genecard", 8, "#f8b8b8", "Open Sans")
note(37, 1142, "Disgenet", 8, "#c4c8d0", "Open Sans")
note(241, 1142, "WGCNA", 8, "#cfa8ee", "Open Sans")

axis_h = dict(showline=True, linecolor="#555555", linewidth=1, showticklabels=True, tickangle=0, tickfont=dict(family="Open Sans", size=6.3, color="#444444"))
ax = new_axes(31.7, 1161.7, 271.7, 1215, x=dict(range=[-0.628, 4.889], tickvals=[0, 1, 2, 3, 4], ticktext=list_names, ticks="outside", ticklen=2, tickcolor="#555555", **axis_h),
              y=dict(range=[0, 15504], tickvals=[0, 5911, 11822], ticks="outside", ticklen=2, tickcolor="#555555", tickformat="d", **axis_h))
fig.add_trace(go.Bar(x=[0, 1, 2, 3, 4], y=list_sizes, width=0.745, marker=dict(color=list_fill, line=dict(color=list_edge, width=1)), hoverinfo="skip", **ax))
fig.add_trace(go.Scatter(x=[0.2, 1, 2.2, 3.1, 4.15], y=[3200, 2300, 5900, 10350, 6200], mode="text", text=[str(v) for v in list_sizes],
                         textfont=dict(family="Open Sans", size=6.3, weight=700, color=["#ffffff", "#b5d5ee", "#ffffff", "#ffffff", "#c8ccd2"]), hoverinfo="skip", **ax))
fig.add_trace(go.Scatter(x=[4.889], y=[0], mode="markers", cliponaxis=False, marker=dict(symbol="triangle-right", size=6, color="#555555"), hoverinfo="skip", **ax))
fig.add_trace(go.Scatter(x=[-0.628], y=[15504], mode="markers", cliponaxis=False, marker=dict(symbol="triangle-up", size=6, color="#555555"), hoverinfo="skip", **ax))
note(149, 1158, "<i>Size of each list</i>", 7, "#444444", "Open Sans")
note(149, 1242.5, "<i>Number of elements: specific (1) or shared by 2, 3, ... lists</i>", 7, "#444444", "Open Sans")

ax = new_axes(31.7, 1252, 271.7, 1268.7, x=dict(range=[-363, 17050], tickvals=[19, 449, 1717, 5357, 12413], ticktext=shared_names, ticks="outside", ticklen=3, tickcolor="#555555", **axis_h),
              y=dict(range=[-0.85, 0.62]))
starts = [sum(shared_counts[:i]) for i in range(len(shared_counts))]
fig.add_trace(go.Bar(x=[sum(shared_counts)], base=[0], y=[0], orientation="h", width=1.12, marker=dict(color="#c9bcc9", line_width=0), hoverinfo="skip", **ax))
fig.add_trace(go.Bar(x=shared_counts, base=starts, y=[0] * 5, orientation="h", width=0.9, text=shared_text, textposition="inside", insidetextanchor="middle",
                     textfont=dict(family="Open Sans", size=6, color="#ffffff", weight=700), marker=dict(color=shared_fill, line=dict(color="#f3eef3", width=0.8)), hoverinfo="skip", **ax))

# ---- I ----
fc_index = list(range(len(fc_genes)))
ax = new_axes(317.3, 1059, 585.7, 1259, x=dict(range=[-0.99, 14.99]),
              y=dict(range=[-4.84, 11.47], tickvals=[-4, -2, 0, 2, 4, 6, 8, 10], showline=True, linecolor="#444444", linewidth=1, ticks="outside", ticklen=3, tickcolor="#444444",
                     showticklabels=True, tickfont=dict(family=SERIF, size=9.5, color="#333333")))
fig.add_trace(go.Bar(x=fc_index, y=fc_values, width=0.8, marker=dict(color=["#00ff00" if v < 0 else "#ff0000" for v in fc_values], line=dict(color="#ffb0b0", width=0.5)), hoverinfo="skip", **ax))
line_trace(ax, [-0.99, 14.99], [0, 0], "#333333", 1.2)
for g, i, v in zip(fc_genes, fc_index, fc_values):
    notes.append(dict(x=i, y=0, xref=ax["xaxis"], yref=ax["yaxis"], text=g, showarrow=False, textangle=90, xanchor="center", yanchor="bottom" if v < 0 else "top",
                      yshift=3 if v < 0 else -3, font=dict(family=SERIF, size=9.8, color="#222222")))
note(295, 1160, "logFC", 11, "#222222", SERIF, angle=-90)

# ---- J ----
ax = new_axes(622.7, 822.7, 756.7, 830.3, x=dict(range=[0, 6]), y=dict(range=[-0.5, 0.5]))
fig.add_trace(go.Bar(x=group_widths, base=[0, 3], y=[0, 0], orientation="h", width=1, marker=dict(color=group_colors, line_width=0), hoverinfo="skip", **ax))
ax = new_axes(622.7, 832.7, 756.7, 1272.4,
              x=dict(range=[-0.5, 5.5], type="category", showticklabels=True, tickangle=90, tickfont=dict(family=SERIF, size=9.5, color="#222222")),
              y=dict(range=[37.5, -0.5], type="category", side="right", showticklabels=True, dtick=1, tickfont=dict(family=SERIF, size=10.4, color="#222222")))
fig.add_trace(go.Heatmap(z=expr_values, x=expr_samples, y=expr_genes, colorscale=bwr, zmin=-1.2, zmax=1.2, hoverinfo="skip",
                         colorbar=dict(x=814 / W, xanchor="left", xpad=0, thickness=6.7, y=1 - 821.7 / H, yanchor="top", ypad=0, lenmode="fraction", len=100 / H, outlinewidth=0,
                                       tickvals=[-1, -0.5, 0, 0.5, 1], ticks="", tickfont=dict(family=SERIF, size=7.5, color="#333333")), **ax))
ax = new_axes(586, 832.7, 622.7, 1272.4, x=dict(range=[1.05, 0]), y=dict(range=[37.5, -0.5]))
line_trace(ax, tree_x, tree_y, "#666666", 0.9)
note(758, 827, "Group", 7.5, "#222222", SERIF, 700, xanchor="left")
note(841, 825, "Group", 7.5, "#222222", SERIF, 700, xanchor="left")
note(855, 835.5, "C", 7.5, "#222222", SERIF, xanchor="left")
note(855, 846, "N", 7.5, "#222222", SERIF, xanchor="left")

for letter, x, y in [("A", 10, 32), ("D", 434, 14), ("B", 10, 323), ("C", 245, 325), ("E", 498, 305), ("F", 10, 498), ("G", 560, 549), ("H", 11, 921), ("I", 310, 1027), ("J", 584, 842)]:
    note(x, y, letter, 24, "#000000", SERIF, 700)

fig.update_layout(
    width=W, height=H,
    margin=dict(l=0, r=0, t=0, b=0),
    template="none",
    paper_bgcolor="white", plot_bgcolor="rgba(0,0,0,0)",
    barmode="overlay",
    showlegend=False,
    annotations=notes,
    shapes=[dict(type="rect", xref="paper", yref="paper", x0=841 / W, x1=852 / W, y0=1 - 840 / H, y1=1 - 830 / H, fillcolor="#00d6e2", line_width=0),
            dict(type="rect", xref="paper", yref="paper", x0=841 / W, x1=852 / W, y0=1 - 851 / H, y1=1 - 840 / H, fillcolor="#f8908c", line_width=0)],
    **axes,
)

# the browser's default body margin would push the figure off the page
fig.write_html("out.html", config=dict(displayModeBar=False), post_script="document.body.style.margin = '0';")
